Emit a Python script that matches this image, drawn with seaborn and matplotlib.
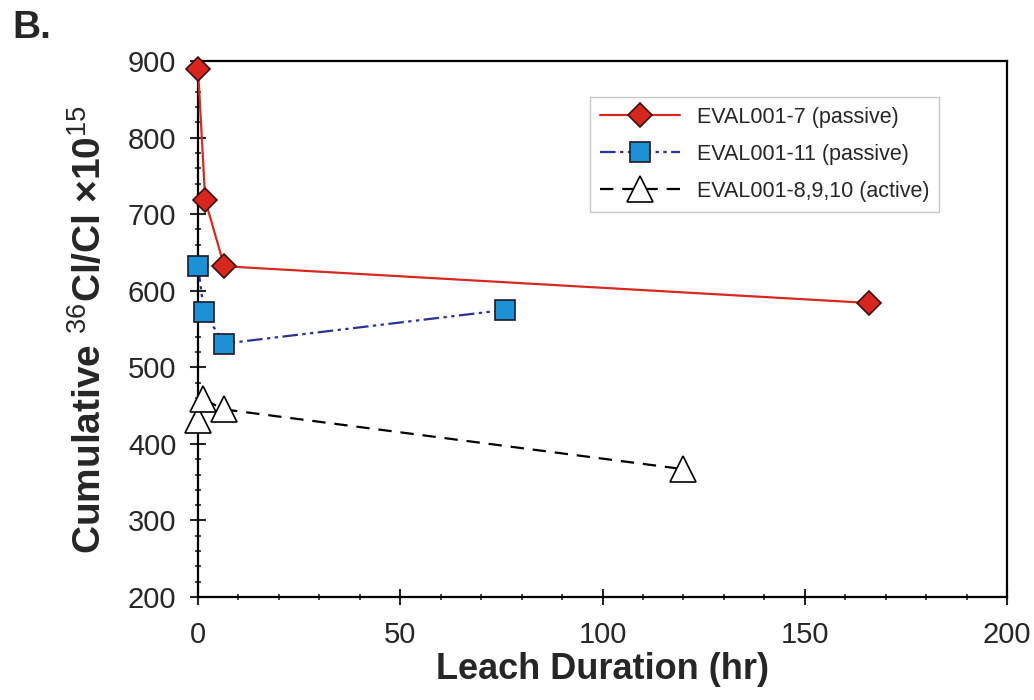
import matplotlib
matplotlib.use('Agg')
import matplotlib.pyplot as plt
from matplotlib.ticker import MultipleLocator
import seaborn as sns

# data
x_eval7 = [0, 1.8, 6.5, 166]
y_eval7 = [890, 718, 632, 584]
x_eval11 = [0, 1.5, 6.5, 76]
y_eval11 = [632, 572, 531, 575]
x_eval8 = [0, 1.3, 6.5, 120]
y_eval8 = [431, 458, 445, 367]
labels = ['EVAL001-7 (passive)', 'EVAL001-11 (passive)', 'EVAL001-8,9,10 (active)']

sns.set_style('ticks')
plt.rcParams['font.family'] = ['Liberation Sans', 'DejaVu Sans']
plt.rcParams['mathtext.fontset'] = 'custom'
plt.rcParams['mathtext.rm'] = 'Liberation Sans'
plt.rcParams['mathtext.bf'] = 'Liberation Sans:bold'

fig = plt.figure(figsize=(10.34, 7), dpi=100)
ax = fig.add_axes([0.1915, 0.1471, 0.7824, 0.7657])

sns.lineplot(x=x_eval7, y=y_eval7, ax=ax, sort=False, color='#D42A20', lw=1.6,
             marker='D', markersize=12, markerfacecolor='#D8261F',
             markeredgecolor='#3a1010', markeredgewidth=1.2, label=labels[0],
             clip_on=False, zorder=4)
sns.lineplot(x=x_eval11, y=y_eval11, ax=ax, sort=False, color='#2E3192', lw=1.6,
             linestyle=(0, (7, 2, 1.5, 2, 1.5, 2)),
             marker='s', markersize=15, markerfacecolor='#1E90D6',
             markeredgecolor='#1a1a2a', markeredgewidth=1.2, label=labels[1],
             clip_on=False, zorder=3)
sns.lineplot(x=x_eval8, y=y_eval8, ax=ax, sort=False, color='black', lw=1.6,
             linestyle=(0, (6, 4)),
             marker='^', markersize=19, markerfacecolor='white',
             markeredgecolor='black', markeredgewidth=1.2, label=labels[2],
             clip_on=False, zorder=3)

ax.set_xlim(0, 200)
ax.set_ylim(200, 900)
ax.xaxis.set_major_locator(MultipleLocator(50))
ax.xaxis.set_minor_locator(MultipleLocator(10))
ax.yaxis.set_major_locator(MultipleLocator(100))
ax.yaxis.set_minor_locator(MultipleLocator(20))
ax.tick_params(which='major', direction='inout', length=11, width=1.5, labelsize=21,
               top=False, right=False)
ax.tick_params(axis='x', which='major', pad=12)
ax.tick_params(axis='y', which='major', pad=10)
ax.tick_params(which='minor', direction='inout', length=5, width=1.2,
               top=False, right=False)
for s in ax.spines.values():
    s.set_linewidth(1.6)
    s.set_color('black')

ax.set_xlabel('Leach Duration (hr)', fontsize=26, fontweight='bold', labelpad=2)
ax.set_ylabel(r'Cumulative $^{\mathrm{36}}$Cl/Cl ×10$^{\mathrm{15}}$',
              fontsize=28, fontweight='bold', labelpad=14)

leg = ax.legend(loc='upper right', bbox_to_anchor=(0.916, 0.933), borderaxespad=0,
                fontsize=15.5, frameon=True, fancybox=False, edgecolor='#bbbbbb',
                handlelength=3.7, handletextpad=0.8, borderpad=0.45, labelspacing=0.75)
leg.get_frame().set_linewidth(1.0)

fig.text(0.012, 0.985, 'B.', fontsize=28, fontweight='bold', va='top')

fig.savefig('out.png', dpi=100)
